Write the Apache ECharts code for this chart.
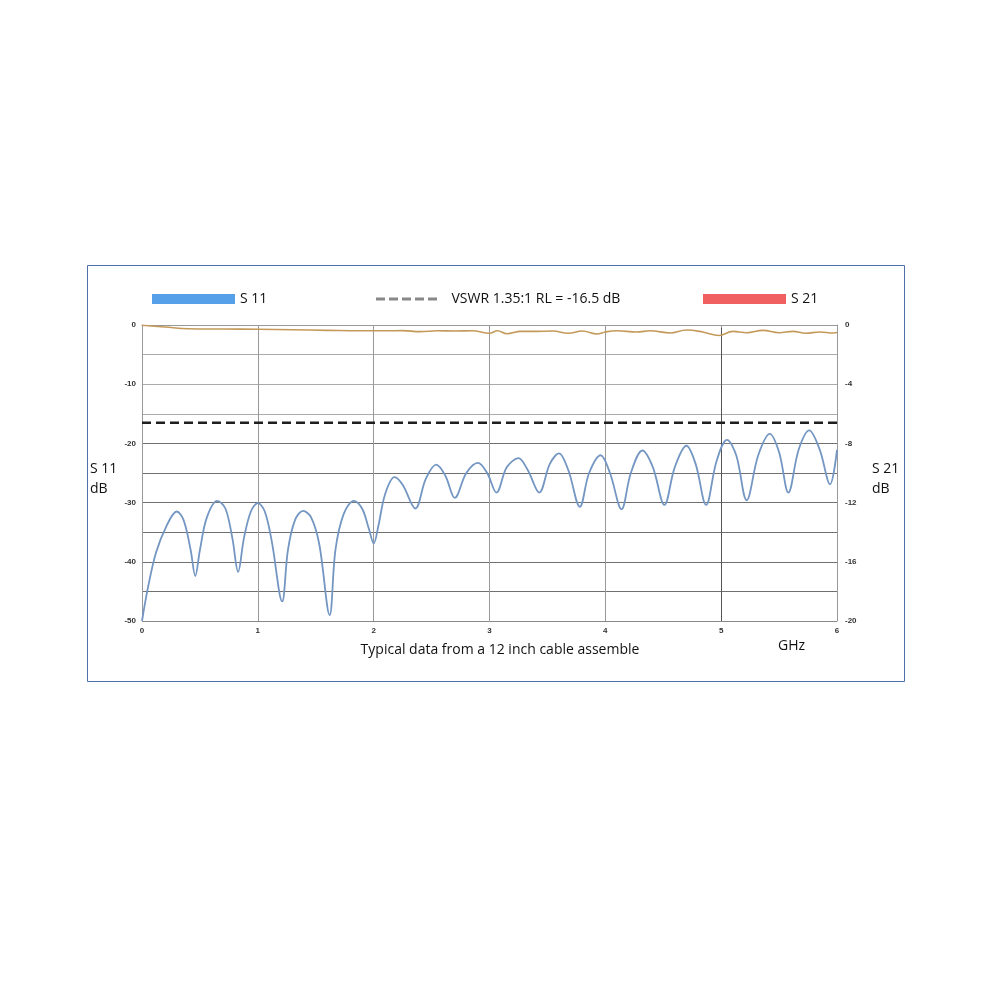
<!DOCTYPE html>
<html>
<head>
<meta charset="utf-8">
<script src="https://cdn.jsdelivr.net/npm/echarts@6/dist/echarts.min.js"></script>
<style>
html,body{margin:0;padding:0;background:#fff;}
#chart{width:1000px;height:1000px;}
</style>
</head>
<body>
<div id="chart"></div>
<script>
// ---- data ----
const xTicks = [0, 1, 2, 3, 4, 5, 6];
const s11Freq = [0.00,0.05,0.12,0.21,0.30,0.36,0.42,0.46,0.50,0.56,0.65,0.72,0.78,0.83,0.88,0.94,1.00,1.06,1.12,1.21,1.26,1.32,1.39,1.46,1.53,1.62,1.67,1.74,1.83,1.90,1.96,2.00,2.04,2.10,2.18,2.25,2.36,2.45,2.54,2.62,2.70,2.80,2.90,2.98,3.06,3.15,3.25,3.33,3.43,3.52,3.60,3.68,3.78,3.86,3.96,4.04,4.14,4.22,4.32,4.41,4.51,4.60,4.70,4.78,4.87,4.96,5.05,5.13,5.22,5.32,5.42,5.50,5.58,5.67,5.76,5.85,5.94,6.00];
const s11Loss = [-50,-44.5,-38.5,-34,-31.5,-33,-38,-42.4,-38,-32.5,-29.7,-31,-36,-41.7,-36,-31.5,-30.1,-31.5,-36.5,-46.7,-38,-33,-31.4,-32.5,-37,-49,-38,-32,-29.7,-31,-34.5,-36.9,-34,-28.5,-25.7,-27,-31,-26,-23.6,-25.5,-29.2,-25,-23.3,-25,-28.3,-24,-22.5,-24.5,-28.3,-23.5,-21.7,-24.5,-30.7,-25,-22,-25,-31.1,-25,-21.2,-24,-30.4,-24,-20.4,-23.5,-30.4,-23,-19.4,-22,-29.6,-22,-18.4,-21.5,-28.3,-21,-17.8,-21,-26.9,-21.1];
const s21Freq = [0.0,0.2,0.4,0.7,1.0,1.3,1.6,1.9,2.1,2.25,2.4,2.55,2.7,2.85,3.0,3.07,3.15,3.27,3.4,3.55,3.68,3.8,3.93,4.0,4.1,4.27,4.39,4.56,4.70,4.84,4.98,5.1,5.22,5.36,5.5,5.62,5.73,5.85,5.97,6.0];
const s21Loss = [-0.02,-0.14,-0.25,-0.27,-0.29,-0.32,-0.36,-0.39,-0.39,-0.38,-0.45,-0.39,-0.41,-0.39,-0.56,-0.39,-0.59,-0.43,-0.43,-0.41,-0.56,-0.41,-0.61,-0.47,-0.39,-0.47,-0.39,-0.54,-0.34,-0.47,-0.71,-0.43,-0.52,-0.36,-0.52,-0.43,-0.56,-0.47,-0.54,-0.51];
const vswrFreq = [0, 6];
const vswrLevel = [-16.5, -16.5];
const s11Name = 'S 11';
const s21Name = 'S 21';
const vswrName = 'VSWR 1.35:1 RL = -16.5 dB';
const leftAxisTitle = 'S 11\ndB';
const rightAxisTitle = 'S 21\ndB';
const captionText = 'Typical data from a 12 inch cable assemble';
const unitText = 'GHz';

const zip = (a, b) => a.map((v, i) => [v, b[i]]);
const FONT = '"Open Sans", "Noto Sans", sans-serif';
const tickFont = {fontSize: 8, fontWeight: 'bold', color: '#333', fontFamily: 'Arial, "Liberation Sans", sans-serif'};
const dashIcon = 'path://M0,0H9V3H0Z M13,0H22V3H13Z M26,0H35V3H26Z M39,0H48V3H39Z M52,0H61V3H52Z';

const chart = echarts.init(document.getElementById('chart'), null, {renderer: 'canvas'});
chart.setOption({
  animation: false,
  backgroundColor: '#fff',
  graphic: [
    {type: 'rect', silent: true,
     shape: {x: 87.5, y: 265.5, width: 817, height: 416},
     style: {fill: 'none', stroke: '#4f6fa8', lineWidth: 1}},
    {type: 'text', silent: true, x: 90, y: 459,
     style: {text: leftAxisTitle, font: '14px "Open Sans", sans-serif', fill: '#111', lineHeight: 20, textAlign: 'left', textVerticalAlign: 'top'}},
    {type: 'text', silent: true, x: 872, y: 459,
     style: {text: rightAxisTitle, font: '14px "Open Sans", sans-serif', fill: '#111', lineHeight: 20, textAlign: 'left', textVerticalAlign: 'top'}}
  ],
  title: [
    {text: captionText, left: 'center', top: 638, textStyle: {fontSize: 14, fontWeight: 'normal', color: '#111', fontFamily: FONT}},
    {text: unitText, left: 773, top: 634, textStyle: {fontSize: 14, fontWeight: 'normal', color: '#111', fontFamily: FONT}}
  ],
  legend: [
    {left: 147, top: 287, itemWidth: 83, itemHeight: 10, icon: 'rect',
     textStyle: {fontSize: 14, color: '#111', fontFamily: FONT},
     data: [{name: s11Name, itemStyle: {color: '#55a0e8'}}]},
    {left: 371, top: 287, itemWidth: 66, itemHeight: 3,
     textStyle: {fontSize: 14, color: '#111', fontFamily: FONT, padding: [0, 0, 0, 7]},
     data: [{name: vswrName, icon: dashIcon, itemStyle: {color: '#888'}}]},
    {left: 698, top: 287, itemWidth: 83, itemHeight: 10, icon: 'rect',
     textStyle: {fontSize: 14, color: '#111', fontFamily: FONT},
     data: [{name: s21Name, itemStyle: {color: '#f06060'}}]}
  ],
  grid: {left: 142, right: 163, top: 325, bottom: 379, containLabel: false},
  xAxis: {
    type: 'value', min: 0, max: 6, interval: 1,
    axisLine: {show: true, lineStyle: {color: '#999'}},
    axisTick: {show: true, length: 3, lineStyle: {color: '#999'}},
    axisLabel: Object.assign({margin: 6, formatter: v => xTicks.includes(v) ? String(v) : ''}, tickFont),
    splitLine: {show: true, lineStyle: {color: ['#999', '#999', '#999', '#999', '#999', '#555', '#999'], width: 1}}
  },
  yAxis: [
    {
      type: 'value', min: -50, max: 0, interval: 5,
      axisLine: {show: true, lineStyle: {color: '#999'}},
      axisTick: {show: false},
      axisLabel: Object.assign({margin: 6, formatter: v => (v % 10 === 0) ? String(v) : ''}, tickFont),
      splitLine: {show: true, lineStyle: {color: ['#888', '#707070', '#707070', '#707070', '#707070', '#707070', '#707070', '#aaa', '#aaa', '#aaa', '#aaa'], width: 1}}
    },
    {
      type: 'value', min: -20, max: 0, interval: 4, position: 'right',
      axisLine: {show: true, lineStyle: {color: '#999'}},
      axisTick: {show: false},
      axisLabel: Object.assign({margin: 8}, tickFont),
      splitLine: {show: false}
    }
  ],
  series: [
    {
      name: s11Name, type: 'line', yAxisIndex: 0, smooth: 0.35, symbol: 'none',
      data: zip(s11Freq, s11Loss),
      lineStyle: {color: '#7396c2', width: 1.8}, itemStyle: {color: '#7396c2'}, z: 3
    },
    {
      name: vswrName, type: 'line', yAxisIndex: 0, symbol: 'none',
      data: zip(vswrFreq, vswrLevel),
      lineStyle: {color: '#1e1e1e', width: 2.5, type: [9, 5]}, itemStyle: {color: '#1e1e1e'}, z: 2
    },
    {
      name: s21Name, type: 'line', yAxisIndex: 1, smooth: 0.4, symbol: 'none',
      data: zip(s21Freq, s21Loss),
      lineStyle: {color: '#c49a5a', width: 1.6}, itemStyle: {color: '#c49a5a'}, z: 3
    }
  ]
});
</script>
</body>
</html>
